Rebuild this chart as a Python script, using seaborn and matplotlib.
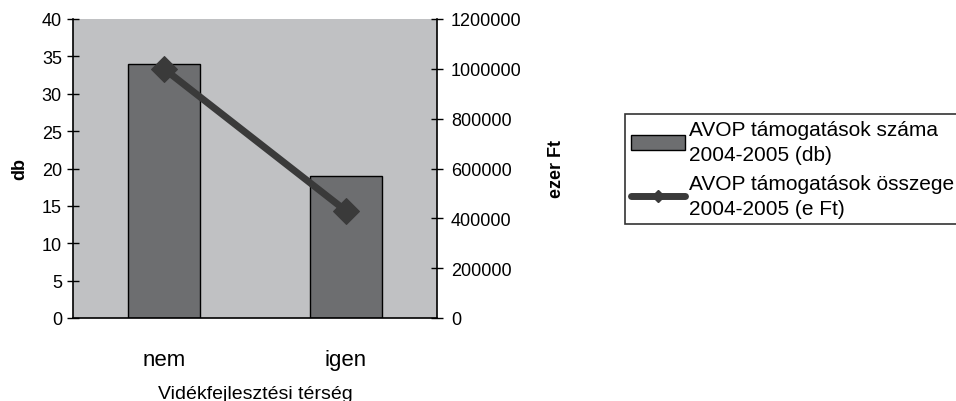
import numpy as np
import pandas as pd
import matplotlib
matplotlib.use("Agg")
import matplotlib.pyplot as plt
import seaborn as sns
from matplotlib.patches import Patch
from matplotlib.lines import Line2D

# --- Data ---
categories = ["nem", "igen"]
counts_db = [34, 19]
amounts_eft = [1000000, 430000]

bar_label = "AVOP támogatások száma\n2004-2005 (db)"
line_label = "AVOP támogatások összege\n2004-2005 (e Ft)"

df = pd.DataFrame({"terseg": categories, "db": counts_db, "eft": amounts_eft})

sns.set_style("white")
plt.rcParams["font.family"] = ["Liberation Sans", "DejaVu Sans"]
plt.rcParams["text.color"] = "black"
plt.rcParams["axes.labelcolor"] = "black"
plt.rcParams["xtick.color"] = "black"
plt.rcParams["ytick.color"] = "black"

bar_color = "#6d6e70"
line_color = "#3a3a3a"
bg_color = "#c0c1c3"

fig = plt.figure(figsize=(9.56, 4.02), dpi=100)
ax = fig.add_axes([73 / 956, 1 - 319 / 402, 364 / 956, 299 / 402])
ax.set_facecolor(bg_color)

sns.barplot(data=df, x="terseg", y="db", color=bar_color, edgecolor="black",
            linewidth=1.0, width=0.4, saturation=1, ax=ax)

ax2 = ax.twinx()
sns.lineplot(data=df, x="terseg", y="eft", color=line_color, linewidth=5,
             marker="D", markersize=13, markeredgecolor=line_color, ax=ax2)

# left axis
ax.set_ylim(0, 40)
ax.set_yticks(np.arange(0, 41, 5))
ax.set_ylabel("db", fontsize=13, fontweight="bold", labelpad=10)
ax.tick_params(axis="y", direction="inout", length=8, width=1, labelsize=13, pad=4)

# right axis
ax2.set_ylim(0, 1200000)
ax2.set_yticks(np.arange(0, 1200001, 200000))
ax2.set_yticklabels([str(v) for v in range(0, 1200001, 200000)])
ax2.set_ylabel("ezer Ft", fontsize=13, fontweight="bold", labelpad=19)
ax2.tick_params(axis="y", direction="inout", length=8, width=1, labelsize=13, pad=6)

# x axis: boundary ticks, category labels between
ax.set_xlim(-0.5, 1.5)
ax.set_xticks([-0.5, 0.5, 1.5])
ax.set_xticklabels([])
ax.set_xticks([0, 1], minor=True)
ax.set_xticklabels(categories, minor=True, fontsize=16)
ax.tick_params(axis="x", which="major", direction="inout", length=14, width=1)
ax.tick_params(axis="x", which="minor", length=0, pad=22)
ax.set_xlabel("Vidékfejlesztési térség", fontsize=14, labelpad=11)

for a in (ax, ax2):
    for s in a.spines.values():
        s.set_visible(False)
ax.spines["left"].set_visible(True)
ax.spines["bottom"].set_visible(True)
ax2.spines["right"].set_visible(True)
for s in (ax.spines["left"], ax.spines["bottom"], ax2.spines["right"]):
    s.set_color("black")
    s.set_linewidth(1.2)

if ax2.get_legend() is not None:
    ax2.get_legend().remove()

handles = [
    Patch(facecolor=bar_color, edgecolor="black", linewidth=1.0),
    Line2D([0], [0], color=line_color, linewidth=5, marker="D", markersize=6),
]
leg = fig.legend(handles, [bar_label, line_label], loc="upper left",
                 bbox_to_anchor=(625 / 956, 1 - 115 / 402), frameon=True,
                 fancybox=False, edgecolor="black", fontsize=15,
                 handlelength=2.6, handletextpad=0.15, borderpad=0.3,
                 labelspacing=0.45, borderaxespad=0)
leg.get_frame().set_linewidth(1.2)
for t in leg.get_texts():
    t.set_linespacing(1.4)

fig.savefig("out.png", dpi=100)
